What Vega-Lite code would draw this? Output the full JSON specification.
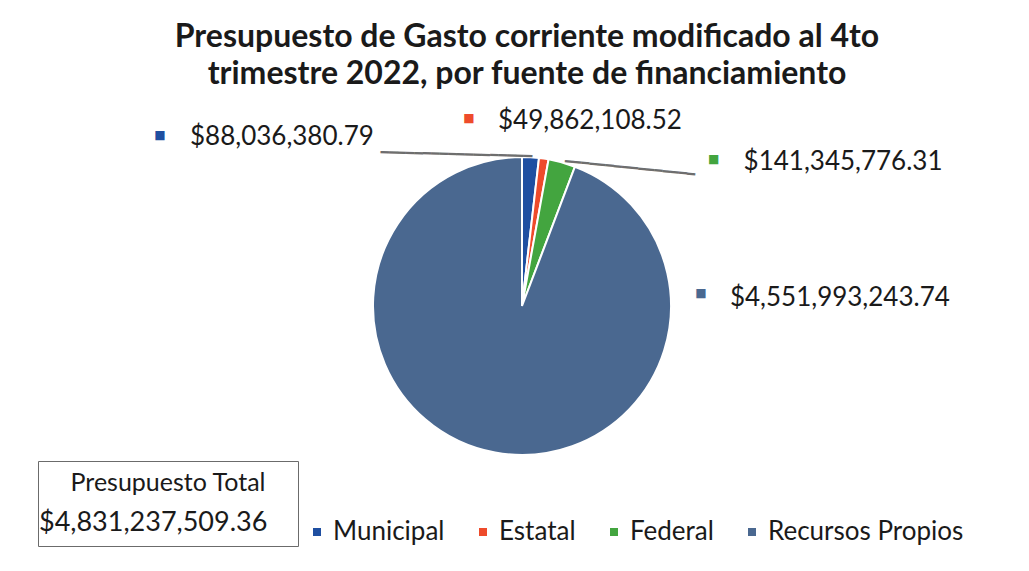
{
  "$schema": "https://vega.github.io/schema/vega-lite/v6.json",
  "width": 1014,
  "height": 392,
  "autosize": {"type": "none"},
  "padding": {"left": 15, "top": 110, "right": 0, "bottom": 69},
  "background": "white",
  "config": {"view": {"stroke": null}, "font": "Lato"},
  "title": {
    "text": ["Presupuesto de Gasto corriente modificado al 4to", "trimestre 2022, por fuente de financiamiento"],
    "fontSize": 32,
    "font": "Lato",
    "fontWeight": "bold",
    "color": "#1a1a1a",
    "anchor": "middle",
    "lineHeight": 37,
    "offset": 17,
    "dx": 5
  },
  "data": {
    "values": [
      {"fuente": "Municipal", "orden": 1, "monto": 88036380.79, "etiqueta": "$88,036,380.79", "total": "$4,831,237,509.36"},
      {"fuente": "Estatal", "orden": 2, "monto": 49862108.52, "etiqueta": "$49,862,108.52", "total": "$4,831,237,509.36"},
      {"fuente": "Federal", "orden": 3, "monto": 141345776.31, "etiqueta": "$141,345,776.31", "total": "$4,831,237,509.36"},
      {"fuente": "Recursos Propios", "orden": 4, "monto": 4551993243.74, "etiqueta": "$4,551,993,243.74", "total": "$4,831,237,509.36"}
    ]
  },
  "transform": [
    {"stack": "monto", "groupby": [], "sort": [{"field": "orden", "order": "ascending"}], "as": ["ini", "fin"]}
  ],
  "layer": [
    {
      "mark": {"type": "arc", "outerRadius": 149, "stroke": "white", "strokeWidth": 2},
      "encoding": {
        "theta": {"field": "monto", "type": "quantitative", "stack": true},
        "order": {"field": "orden", "type": "quantitative"},
        "color": {
          "field": "fuente",
          "type": "nominal",
          "sort": ["Municipal", "Estatal", "Federal", "Recursos Propios"],
          "scale": {
            "domain": ["Municipal", "Estatal", "Federal", "Recursos Propios"],
            "range": ["#1f4fa1", "#ee4b2b", "#43a53f", "#4a6890"]
          },
          "legend": {
            "title": null,
            "orient": "none",
            "legendX": 289,
            "legendY": 409,
            "direction": "horizontal",
            "columns": 4,
            "symbolType": "square",
            "symbolSize": 64,
            "symbolStrokeWidth": 0,
            "labelFontSize": 26,
            "labelFont": "Lato",
            "labelColor": "#1a1a1a",
            "labelLimit": 0,
            "labelOffset": 3,
            "columnPadding": 25,
            "padding": 0
          }
        }
      }
    },
    {
      "transform": [{"filter": {"field": "orden", "equal": 4}}],
      "mark": {"type": "point", "opacity": 0, "size": 0},
      "encoding": {
        "shape": {
          "field": "total",
          "type": "nominal",
          "scale": {"range": ["square"]},
          "legend": {
            "title": "Presupuesto Total",
            "orient": "none",
            "legendX": 23,
            "legendY": 351,
            "padding": 10,
            "strokeColor": "#6b6b6b",
            "titleFont": "Lato",
            "titleFontSize": 25,
            "titleFontWeight": "normal",
            "titleColor": "#1a1a1a",
            "titleAnchor": "middle",
            "titleLimit": 0,
            "titlePadding": 13,
            "labelFont": "Lato",
            "labelFontSize": 27,
            "labelColor": "#1a1a1a",
            "labelLimit": 0,
            "labelOffset": -36,
            "labelExpr": "datum.label + '\u2800'",
            "symbolSize": 0,
            "symbolOpacity": 0,
            "symbolStrokeWidth": 0
          }
        }
      }
    },
    {
      "transform": [{"filter": {"field": "orden", "equal": 1}}],
      "mark": {"type": "text", "radius": 149, "dx": -65.6, "dy": -0.3, "angle": 1.5, "align": "center", "baseline": "middle", "fontSize": 14, "font": "DejaVu Sans", "color": "#6e6e6e", "text": "━━━━━━━━━━━━━━━━━━"},
      "encoding": {"theta": {"field": "ini", "type": "quantitative", "stack": null}}
    },
    {
      "transform": [{"filter": {"field": "orden", "equal": 3}}],
      "mark": {"type": "text", "radius": 149, "dx": 81.9, "dy": 0.6, "angle": 5.84, "align": "center", "baseline": "middle", "fontSize": 13.6, "font": "DejaVu Sans", "color": "#6e6e6e", "text": "━━━━━━━━━━━━━━━━"},
      "encoding": {"theta": {"field": "ini", "type": "quantitative", "stack": null}}
    },
    {
      "transform": [{"filter": {"field": "orden", "equal": 1}}],
      "mark": {"type": "text", "radius": 149, "dx": -332, "dy": -20, "align": "left", "baseline": "middle", "fontSize": 26, "font": "Lato", "color": "#1a1a1a"},
      "encoding": {"theta": {"field": "ini", "type": "quantitative", "stack": null}, "text": {"field": "etiqueta"}}
    },
    {
      "transform": [{"filter": {"field": "orden", "equal": 2}}],
      "mark": {"type": "text", "radius": 149, "dx": -41, "dy": -37, "align": "left", "baseline": "middle", "fontSize": 26, "font": "Lato", "color": "#1a1a1a"},
      "encoding": {"theta": {"field": "ini", "type": "quantitative", "stack": null}, "text": {"field": "etiqueta"}}
    },
    {
      "transform": [{"filter": {"field": "orden", "equal": 3}}],
      "mark": {"type": "text", "radius": 149, "dx": 195, "dy": 3, "align": "left", "baseline": "middle", "fontSize": 26, "font": "Lato", "color": "#1a1a1a"},
      "encoding": {"theta": {"field": "ini", "type": "quantitative", "stack": null}, "text": {"field": "etiqueta"}}
    },
    {
      "transform": [{"filter": {"field": "orden", "equal": 4}}],
      "mark": {"type": "text", "radius": 149, "dx": 155, "dy": 131, "align": "left", "baseline": "middle", "fontSize": 26, "font": "Lato", "color": "#1a1a1a"},
      "encoding": {"theta": {"field": "ini", "type": "quantitative", "stack": null}, "text": {"field": "etiqueta"}}
    },
    {
      "transform": [{"filter": {"field": "orden", "equal": 1}}],
      "mark": {"type": "text", "radius": 149, "dx": -362, "dy": -22, "align": "center", "baseline": "middle", "fontSize": 12, "font": "DejaVu Sans", "text": "■"},
      "encoding": {"theta": {"field": "ini", "type": "quantitative", "stack": null}, "color": {"field": "fuente", "type": "nominal"}}
    },
    {
      "transform": [{"filter": {"field": "orden", "equal": 2}}],
      "mark": {"type": "text", "radius": 149, "dx": -70, "dy": -40, "align": "center", "baseline": "middle", "fontSize": 12, "font": "DejaVu Sans", "text": "■"},
      "encoding": {"theta": {"field": "ini", "type": "quantitative", "stack": null}, "color": {"field": "fuente", "type": "nominal"}}
    },
    {
      "transform": [{"filter": {"field": "orden", "equal": 3}}],
      "mark": {"type": "text", "radius": 149, "dx": 165, "dy": 0, "align": "center", "baseline": "middle", "fontSize": 12, "font": "DejaVu Sans", "text": "■"},
      "encoding": {"theta": {"field": "ini", "type": "quantitative", "stack": null}, "color": {"field": "fuente", "type": "nominal"}}
    },
    {
      "transform": [{"filter": {"field": "orden", "equal": 4}}],
      "mark": {"type": "text", "radius": 149, "dx": 126, "dy": 126, "align": "center", "baseline": "middle", "fontSize": 12, "font": "DejaVu Sans", "text": "■"},
      "encoding": {"theta": {"field": "ini", "type": "quantitative", "stack": null}, "color": {"field": "fuente", "type": "nominal"}}
    }
  ]
}
